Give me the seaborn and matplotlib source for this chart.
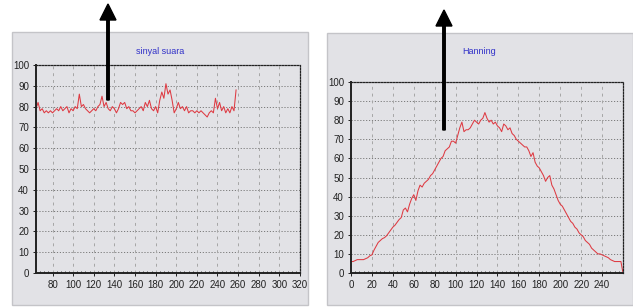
import matplotlib
matplotlib.use("Agg")
import matplotlib.pyplot as plt
import matplotlib.transforms as mtransforms
from matplotlib.patches import Rectangle, FancyArrow
import numpy as np
import pandas as pd
import seaborn as sns

# sinyal suara: sample index 64..258 (step 2)
suara_x = list(range(64, 260, 2))
suara_y = [79, 82, 78, 79, 77, 78, 77, 78, 77, 78, 79, 78, 80, 78, 79, 80, 77, 79, 78, 80,
           79, 86, 80, 81, 79, 78, 77, 78, 79, 78, 80, 81, 85, 80, 82, 79, 78, 80, 79, 77,
           79, 82, 81, 82, 79, 80, 78, 78, 77, 78, 79, 80, 78, 82, 80, 83, 79, 78, 80, 77,
           83, 87, 84, 91, 86, 88, 83, 77, 79, 82, 79, 80, 78, 80, 77, 78, 78, 77, 78, 77,
           78, 77, 76, 75, 77, 78, 77, 84, 79, 82, 78, 80, 77, 79, 77, 80, 78, 88]

# Hanning windowed signal: sample index 0..260 (step 2)
hann_x = list(range(0, 262, 2))
hann_y = [6, 6, 6.5, 7, 7, 7, 7, 7.5, 8, 9, 9.5, 12, 14, 16, 17, 18, 18.5, 19.5, 21, 22.5,
          24, 25, 26.5, 28, 29, 33, 34, 32, 36, 39, 41, 38, 43, 46, 45, 47, 48, 49, 51, 52,
          54, 56, 58, 60, 61, 64, 65, 66, 69, 69, 68, 72, 76, 79, 74, 75, 75, 76, 78, 80,
          79, 78, 80, 81, 84, 81, 79, 80, 78, 79, 77, 76, 74, 78, 77, 75, 76, 73, 72, 70,
          69, 68, 67, 66, 66, 64, 61, 63, 58, 56, 55, 53, 51, 48, 50, 51, 46, 44, 41, 38,
          36, 35, 33, 31, 29, 27, 26, 24, 23, 21, 20, 19, 17, 16, 15, 13, 12, 11, 10, 10,
          9.5, 9, 8.5, 8, 7, 6.5, 6, 6, 6, 6, 0]

W, H = 633, 308
PANEL = "#e2e2e6"
FONT = ["Liberation Sans", "DejaVu Sans"]

fig = plt.figure(figsize=(W / 100, H / 100), dpi=100)
fig.patch.set_facecolor("white")


def px_rect(x0, y0, x1, y1):
    # pixel box (top-left origin) -> figure fraction [l, b, w, h]
    return [x0 / W, (H - y1) / H, (x1 - x0) / W, (y1 - y0) / H]


def draw_panel(box, ax_box, xs, ys, xlim, xticks, title, title_xy):
    fig.add_artist(Rectangle(box[:2], box[2], box[3], transform=fig.transFigure,
                             facecolor=PANEL, edgecolor="#c4c4c8", lw=1.0, zorder=0))
    ax = fig.add_axes(ax_box)
    ax.set_facecolor(PANEL)
    df = pd.DataFrame({"x": xs, "y": ys})
    sns.lineplot(data=df, x="x", y="y", ax=ax, color="#de3a42", lw=0.75)
    ax.set_xlim(*xlim)
    ax.set_ylim(0, 100)
    ax.set_xticks(xticks)
    ax.set_yticks(range(0, 101, 10))
    ax.set_xticks(np.arange(xlim[0], xlim[1] + 1, 4), minor=True)
    ax.set_xlabel("")
    ax.set_ylabel("")
    for t in ax.get_xticklabels() + ax.get_yticklabels():
        t.set_family(FONT)
        t.set_fontsize(7)
        t.set_color("#222222")
    ax.tick_params(axis="both", which="major", length=2, width=0.6, pad=3)
    ax.tick_params(axis="x", which="minor", length=1.5, width=0.5, direction="in")
    for y in range(10, 100, 10):
        ax.axhline(y, color="#7a7a7a", lw=0.7, ls=(0, (1.2, 1.8)), zorder=0.5)
    for x in xticks:
        ax.axvline(x, color="#a6a6a6", lw=0.7, ls=(0, (3, 4)), zorder=0.5)
    for side in ("top", "right"):
        ax.spines[side].set_linestyle((0, (1.2, 1.2)))
        ax.spines[side].set_linewidth(0.9)
        ax.spines[side].set_color("#222222")
    for side in ("left", "bottom"):
        ax.spines[side].set_linewidth(1.4)
        ax.spines[side].set_color("#222222")
    fig.text(title_xy[0] / W, 1 - title_xy[1] / H, title, color="#3030c8",
             family=FONT, fontsize=6.5, ha="center", va="center")
    return ax


draw_panel(px_rect(12, 32, 308, 305), px_rect(36, 65, 300, 273),
           suara_x, suara_y, (64, 320), list(range(80, 321, 20)),
           "sinyal suara", (160, 52))
draw_panel(px_rect(327, 33, 633, 305), px_rect(351, 82, 623, 273),
           hann_x, hann_y, (0, 260), list(range(0, 241, 20)),
           "Hanning", (479, 52))

# arrows drawn in pixel space
ident = mtransforms.IdentityTransform()
for x, tail, tip in [(108, 100, 4), (444, 130, 10)]:
    fig.add_artist(FancyArrow(x, H - tail, 0, tail - tip, width=2.5, head_width=16,
                              head_length=16, length_includes_head=True,
                              color="black", transform=ident, zorder=10))

fig.savefig("out.png", dpi=100)
